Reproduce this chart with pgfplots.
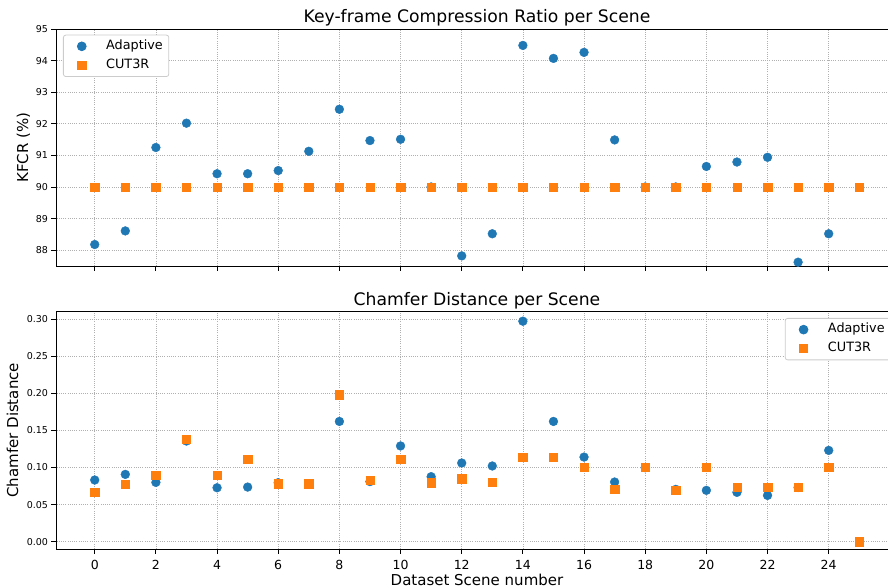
\documentclass[border=0pt]{standalone}
\usepackage{pgfplots}
\pgfplotsset{compat=1.18}
\usepackage{pgfplotstable}
\usepackage{fontspec}
\setmainfont{DejaVu Sans}

\definecolor{mplblue}{HTML}{1F77B4}
\definecolor{mplorange}{HTML}{FF7F0E}
\definecolor{gridgray}{HTML}{B0B0B0}
\definecolor{legedge}{HTML}{CCCCCC}

% scene, adaptive, cut3r
\pgfplotstableread{
scene kfcrA kfcrC cdA cdC
0  88.18 90 0.0831 0.0669
1  88.61 90 0.0907 0.0777
2  91.25 90 0.0799 0.0898
3  92.02 90 0.1356 0.1383
4  90.42 90 0.0727 0.0898
5  90.42 90 0.0736 0.1110
6  90.52 90 0.0795 0.0780
7  91.13 90 0.0777 0.0780
8  92.46 90 0.1620 0.1980
9  91.47 90 0.0810 0.0826
10 91.51 90 0.1290 0.1110
11 90.00 90 0.0876 0.0795
12 87.82 90 0.1060 0.0849
13 88.52 90 0.1020 0.0799
14 94.48 90 0.2970 0.1140
15 94.07 90 0.1620 0.1140
16 94.26 90 0.1140 0.1001
17 91.49 90 0.0804 0.0710
18 90.00 90 0.0997 0.1000
19 90.00 90 0.0705 0.0692
20 90.65 90 0.0692 0.1000
21 90.79 90 0.0665 0.0732
22 90.94 90 0.0624 0.0732
23 87.62 90 0.0730 0.0732
24 88.52 90 0.1230 0.1000
}\scenes
\pgfplotstableread{
scene kfcrC cdC
25 90 0.0
}\lastscene

\pgfplotsset{
  panel/.style={
    scale only axis, width=841bp, height=237bp,
    xmin=-1.25, xmax=26.25,
    xtick={0,2,...,24},
    xtick pos=bottom, ytick pos=left, tick align=outside,
    major tick length=5bp,
    axis line style={line width=0.8bp},
    every tick/.style={line width=0.8bp, black},
    grid=major,
    major grid style={gridgray, line width=0.6bp, dash pattern=on 1bp off 1.2bp},
    /pgf/number format/assume math mode=true,
    yticklabel style={font=\fontsize{9.5bp}{11bp}\selectfont},
    xticklabel style={font=\fontsize{12.5bp}{14bp}\selectfont, yshift=-2.5bp},
    every axis title/.style={font=\fontsize{17.2bp}{20bp}\selectfont, at={(axis description cs:0.5,1)}, anchor=base, yshift=6bp},
    label style={font=\fontsize{15bp}{17bp}\selectfont},
    legend style={font=\fontsize{12.8bp}{15bp}\selectfont, draw=legedge, line width=0.8bp,
      rounded corners=2.5bp, fill=white, inner xsep=6bp, inner ysep=5bp,
      row sep=6.5bp, column sep=0bp,
      nodes={inner sep=0bp, text height=9.5bp, text depth=3bp}},
    legend cell align=left,
    legend image code/.code={\path (0bp,0bp) (36bp,0bp); \draw[##1] plot coordinates {(12bp,0bp)};},
  },
  adapt/.style={only marks, mark=*, mark size=4.4bp, mplblue, mark options={draw=none, fill=mplblue}},
  cut/.style={only marks, mark=square*, mark size=4.2bp, mplorange, mark options={draw=none, fill=mplorange}},
}

\begin{document}
\begin{tikzpicture}
\begin{axis}[panel, at={(56.5bp,321bp)}, anchor=south west,
  ymin=87.5, ymax=95, ytick={88,...,95},
  xticklabels=\empty,
  title={Key-frame Compression Ratio per Scene},
  ylabel={KFCR (\%)},
  ylabel style={at={(axis description cs:-0.0392,0.5)}, anchor=center},
  legend style={at={(axis description cs:0.0077,0.976)}, anchor=north west}]
\addplot[adapt] table[x=scene, y=kfcrA] {\scenes};
\addlegendentry{Adaptive}
\addplot[cut] table[x=scene, y=kfcrC] {\scenes};
\addlegendentry{CUT3R}
\addplot[cut, forget plot] table[x=scene, y=kfcrC] {\lastscene};
\end{axis}

\begin{axis}[panel, at={(56.5bp,38bp)}, anchor=south west, height=237.3bp,
  ymin=-0.0098, ymax=0.3098, ytick={0,0.05,...,0.30},
  scaled y ticks=false,
  yticklabel style={/pgf/number format/fixed, /pgf/number format/precision=2, /pgf/number format/fixed zerofill},
  title={Chamfer Distance per Scene},
  xlabel={Dataset Scene number},
  xlabel style={at={(axis description cs:0.5,-0.152)}, anchor=base},
  ylabel={Chamfer Distance},
  ylabel style={at={(axis description cs:-0.0523,0.5)}, anchor=center},
  legend style={at={(axis description cs:0.9923,0.9735)}, anchor=north east}]
\addplot[adapt] table[x=scene, y=cdA] {\scenes};
\addlegendentry{Adaptive}
\addplot[cut] table[x=scene, y=cdC] {\scenes};
\addlegendentry{CUT3R}
\addplot[cut, forget plot] table[x=scene, y=cdC] {\lastscene};
\end{axis}
\pgfresetboundingbox
\path[use as bounding box] (0bp,0bp) rectangle (888bp,587bp);
\end{tikzpicture}
\end{document}
